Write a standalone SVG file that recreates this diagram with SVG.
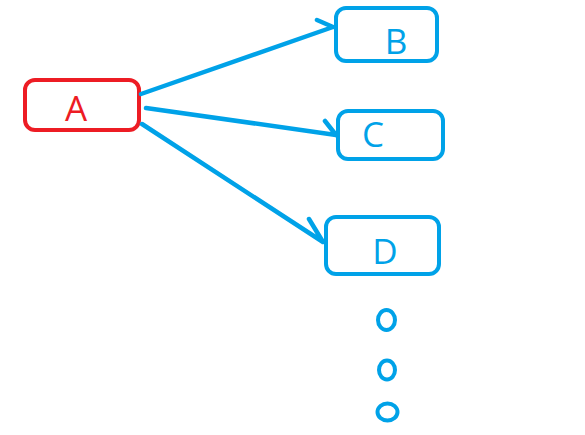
<svg xmlns="http://www.w3.org/2000/svg" width="585" height="435" viewBox="0 0 585 435">
<style>
.box{fill:none;stroke-width:4;}
.red{stroke:#ED1C24;}
.blue{stroke:#00A2E8;}
.lbl{font-family:"Open Sans","Noto Sans",sans-serif;font-size:35px;}
.conn path{fill:none;stroke:#00A2E8;stroke-width:4.5;stroke-linecap:round;stroke-linejoin:round;}
.dot{fill:none;stroke:#00A2E8;stroke-width:4;}
</style>
<rect width="585" height="435" fill="#fff"/>
<g id="A">
<rect class="box red" x="25" y="80" width="114" height="50" rx="10"/>
<text class="lbl" x="76" y="121" text-anchor="middle" fill="#ED1C24">A</text>
</g>
<g id="B">
<rect class="box blue" x="336" y="8" width="101" height="53" rx="10"/>
<text class="lbl" x="396" y="54" text-anchor="middle" fill="#00A2E8">B</text>
</g>
<g id="C">
<rect class="box blue" x="338" y="111" width="105" height="48" rx="10"/>
<text class="lbl" x="373" y="147" text-anchor="middle" fill="#00A2E8">C</text>
</g>
<g id="D">
<rect class="box blue" x="326" y="217" width="113" height="57" rx="10"/>
<text class="lbl" x="385" y="264" text-anchor="middle" fill="#00A2E8">D</text>
</g>
<g id="connectors" class="conn">
<path d="M141 94 L333 27 M317 20 L333 27"/>
<path d="M146 108 L336 135 M325 121 L336 135"/>
<path d="M142 124 L323 242 M309 219 L323 242"/>
</g>
<g id="dots">
<ellipse class="dot" cx="386.5" cy="320" rx="8.5" ry="10"/>
<ellipse class="dot" cx="387" cy="370" rx="8" ry="9.5"/>
<ellipse class="dot" cx="387.5" cy="412" rx="10" ry="8.5"/>
</g>
</svg>
